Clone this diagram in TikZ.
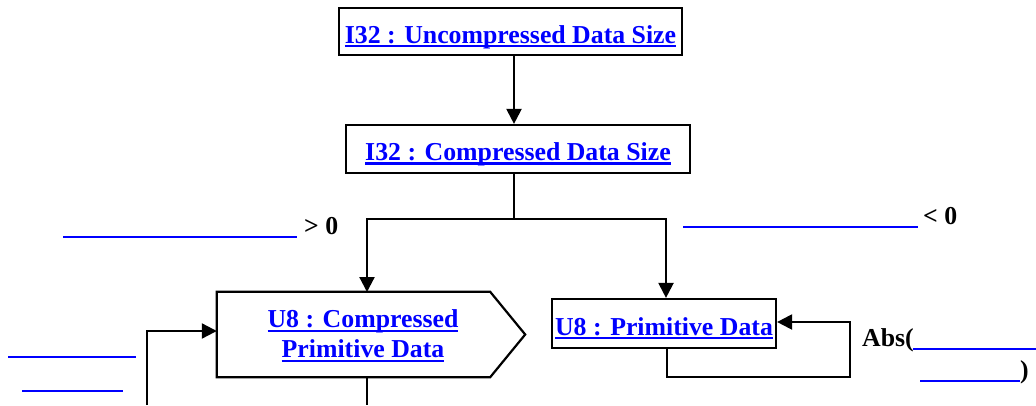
\documentclass[tikz,border=0pt]{standalone}
\usepackage{fontspec}
\setmainfont{Liberation Serif}
\usetikzlibrary{arrows.meta}
\newcommand{\fs}{\fontsize{25.8}{30}\selectfont\bfseries}
\newcommand{\lnk}[1]{\textcolor{blue}{\setbox0\hbox{#1}\rlap{\rule[-4pt]{\wd0}{2.2pt}}\box0}}
\begin{document}
\begin{tikzpicture}[x=1pt,y=-1pt,
  box/.style={draw, line width=2.2pt, inner sep=0pt, font=\fs, text height=23pt, text depth=0pt},
  arr/.style={line width=2.2pt, -{Triangle[length=15pt,width=15pt]}},
  ln/.style={line width=2.2pt},
  bl/.style={blue, line width=2.2pt},
  lbl/.style={font=\fs, inner sep=0pt}]
\useasboundingbox (0,0) rectangle (1036,405);
% boxes
\node[box, minimum width=343pt, minimum height=47pt] (b1) at (510.5,31.5) {\lnk{I32 : Uncompressed Data Size}};
\node[box, minimum width=344pt, minimum height=48pt] (b2) at (518,149) {\lnk{I32 : Compressed Data Size}};
\node[box, minimum width=224pt, minimum height=49pt] (pd) at (664,323.5) {\lnk{U8 : Primitive Data}};
\node[inner sep=0pt, minimum width=308pt, minimum height=85pt] (cpd) at (371,334.5) {};
\draw[ln] (cpd.north west) -- ([xshift=-35pt]cpd.north east) -- (cpd.east) -- ([xshift=-35pt]cpd.south east) -- (cpd.south west) -- cycle;
\node[lbl, align=center] (cpdt) at (363,336) {\lnk{U8 : Compressed}\\\lnk{Primitive Data}};
% connectors
\draw[arr] ([xshift=3.5pt]b1.south) -- ([xshift=-4pt]b2.north);
\coordinate (split) at (514,219);
\draw[ln] ([xshift=-4pt]b2.south) -- (split);
\coordinate (cpdtop) at (367,292);
\draw[arr] (split) -| (cpdtop);
\draw[arr] (split) -| ([xshift=2pt]pd.north);
\coordinate (lp) at (850,377);
\draw[arr] ([xshift=3pt]pd.south) |- (lp) |- ([yshift=1.5pt]pd.east);
\coordinate (lin) at (147,405);
\draw[arr] (lin) |- ([yshift=3.5pt]cpd.west);
\coordinate (cout) at (367,405);
\draw[ln] (cpd.south -| cout) -- (cout);
% labels
\node[lbl, anchor=base west] (gt) at (304,234) {> 0};
\coordinate (gta) at (63,237); \coordinate (gtb) at (297,237);
\draw[bl] (gta) -- (gtb);
\node[lbl, anchor=base west] (lt) at (923,224) {< 0};
\coordinate (lta) at (683,227); \coordinate (ltb) at (918,227);
\draw[bl] (lta) -- (ltb);
\node[lbl, anchor=base west] (abs) at (862,346) {Abs(};
\coordinate (aba) at (913,349); \coordinate (abb) at (1036,349);
\draw[bl] (aba) -- (abb);
\node[lbl, anchor=base west] (cp) at (1020,378) {)};
\coordinate (cpa) at (920,381); \coordinate (cpb) at (1020,381);
\draw[bl] (cpa) -- (cpb);
\coordinate (l1a) at (8,357); \coordinate (l1b) at (136,357);
\draw[bl] (l1a) -- (l1b);
\coordinate (l2a) at (22,391); \coordinate (l2b) at (123,391);
\draw[bl] (l2a) -- (l2b);
\end{tikzpicture}
\end{document}
